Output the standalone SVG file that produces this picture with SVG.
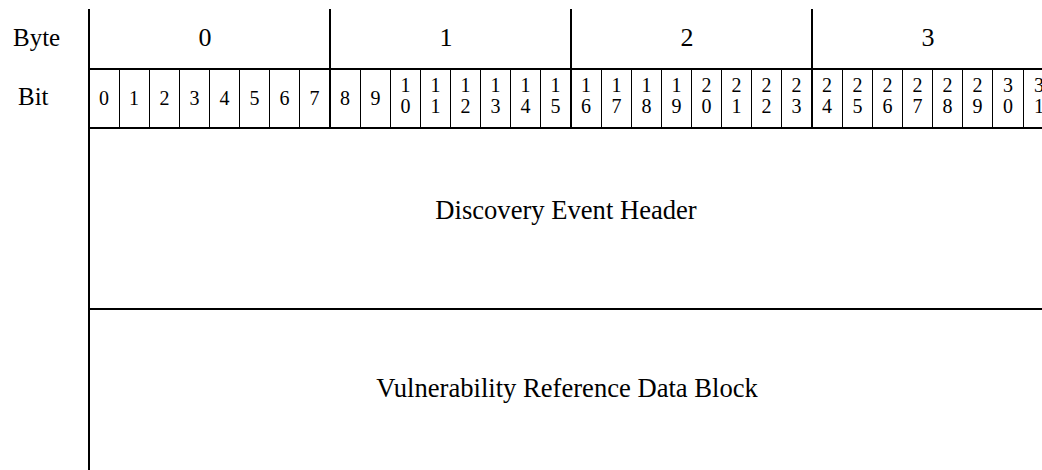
<svg xmlns="http://www.w3.org/2000/svg" width="1042" height="470" viewBox="0 0 1042 470">
<style>
text{font-family:"Liberation Serif","Times New Roman",serif;fill:#000}
.lg{font-size:26px;text-anchor:middle}
.body{font-size:26.6px;text-anchor:middle}
.hd{font-size:25px}
.bt{font-size:20px;text-anchor:middle}
.thick{stroke:#000;stroke-width:2;fill:none}
.thin{stroke:#000;stroke-width:1;fill:none}
</style>
<rect width="1042" height="470" fill="#fff"/>
<g id="connectors">
<line class="thick" x1="89" y1="9" x2="89" y2="470"/>
<line class="thick" x1="330" y1="9" x2="330" y2="128"/>
<line class="thick" x1="571" y1="9" x2="571" y2="128"/>
<line class="thick" x1="812" y1="9" x2="812" y2="128"/>
<line class="thick" x1="89" y1="69" x2="1042" y2="69"/>
<line class="thick" x1="89" y1="128" x2="1042" y2="128"/>
<line class="thick" x1="89" y1="309" x2="1042" y2="309"/>
<g class="bits">
<line class="thin" x1="119.5" y1="69" x2="119.5" y2="128"/>
<line class="thin" x1="149.5" y1="69" x2="149.5" y2="128"/>
<line class="thin" x1="179.5" y1="69" x2="179.5" y2="128"/>
<line class="thin" x1="209.5" y1="69" x2="209.5" y2="128"/>
<line class="thin" x1="239.5" y1="69" x2="239.5" y2="128"/>
<line class="thin" x1="269.5" y1="69" x2="269.5" y2="128"/>
<line class="thin" x1="299.5" y1="69" x2="299.5" y2="128"/>
<line class="thin" x1="360.5" y1="69" x2="360.5" y2="128"/>
<line class="thin" x1="390.5" y1="69" x2="390.5" y2="128"/>
<line class="thin" x1="420.5" y1="69" x2="420.5" y2="128"/>
<line class="thin" x1="450.5" y1="69" x2="450.5" y2="128"/>
<line class="thin" x1="480.5" y1="69" x2="480.5" y2="128"/>
<line class="thin" x1="510.5" y1="69" x2="510.5" y2="128"/>
<line class="thin" x1="540.5" y1="69" x2="540.5" y2="128"/>
<line class="thin" x1="601.5" y1="69" x2="601.5" y2="128"/>
<line class="thin" x1="631.5" y1="69" x2="631.5" y2="128"/>
<line class="thin" x1="661.5" y1="69" x2="661.5" y2="128"/>
<line class="thin" x1="691.5" y1="69" x2="691.5" y2="128"/>
<line class="thin" x1="721.5" y1="69" x2="721.5" y2="128"/>
<line class="thin" x1="751.5" y1="69" x2="751.5" y2="128"/>
<line class="thin" x1="781.5" y1="69" x2="781.5" y2="128"/>
<line class="thin" x1="842.5" y1="69" x2="842.5" y2="128"/>
<line class="thin" x1="872.5" y1="69" x2="872.5" y2="128"/>
<line class="thin" x1="902.5" y1="69" x2="902.5" y2="128"/>
<line class="thin" x1="932.5" y1="69" x2="932.5" y2="128"/>
<line class="thin" x1="962.5" y1="69" x2="962.5" y2="128"/>
<line class="thin" x1="992.5" y1="69" x2="992.5" y2="128"/>
<line class="thin" x1="1023.5" y1="69" x2="1023.5" y2="128"/>
</g>
</g>
<g id="labels">
<text class="hd" x="13" y="46">Byte</text>
<text class="hd" x="18" y="105">Bit</text>
</g>
<g id="bytes">
<text class="lg" x="205" y="46">0</text>
<text class="lg" x="446" y="46">1</text>
<text class="lg" x="687" y="46">2</text>
<text class="lg" x="928" y="46">3</text>
</g>
<g id="bit-labels">
<text class="bt" x="104" y="105">0</text>
<text class="bt" x="134" y="105">1</text>
<text class="bt" x="164.5" y="105">2</text>
<text class="bt" x="194.5" y="105">3</text>
<text class="bt" x="224.5" y="105">4</text>
<text class="bt" x="254.5" y="105">5</text>
<text class="bt" x="284.5" y="105">6</text>
<text class="bt" x="314.5" y="105">7</text>
<text class="bt" x="345" y="105">8</text>
<text class="bt" x="375.5" y="105">9</text>
<text class="bt" x="405.5" y="92">1<tspan x="405.5" dy="21">0</tspan></text>
<text class="bt" x="435.5" y="92">1<tspan x="435.5" dy="21">1</tspan></text>
<text class="bt" x="465.5" y="92">1<tspan x="465.5" dy="21">2</tspan></text>
<text class="bt" x="495.5" y="92">1<tspan x="495.5" dy="21">3</tspan></text>
<text class="bt" x="525.5" y="92">1<tspan x="525.5" dy="21">4</tspan></text>
<text class="bt" x="555.5" y="92">1<tspan x="555.5" dy="21">5</tspan></text>
<text class="bt" x="586" y="92">1<tspan x="586" dy="21">6</tspan></text>
<text class="bt" x="616.5" y="92">1<tspan x="616.5" dy="21">7</tspan></text>
<text class="bt" x="646.5" y="92">1<tspan x="646.5" dy="21">8</tspan></text>
<text class="bt" x="676.5" y="92">1<tspan x="676.5" dy="21">9</tspan></text>
<text class="bt" x="706.5" y="92">2<tspan x="706.5" dy="21">0</tspan></text>
<text class="bt" x="736.5" y="92">2<tspan x="736.5" dy="21">1</tspan></text>
<text class="bt" x="766.5" y="92">2<tspan x="766.5" dy="21">2</tspan></text>
<text class="bt" x="796.5" y="92">2<tspan x="796.5" dy="21">3</tspan></text>
<text class="bt" x="827" y="92">2<tspan x="827" dy="21">4</tspan></text>
<text class="bt" x="857.5" y="92">2<tspan x="857.5" dy="21">5</tspan></text>
<text class="bt" x="887.5" y="92">2<tspan x="887.5" dy="21">6</tspan></text>
<text class="bt" x="917.5" y="92">2<tspan x="917.5" dy="21">7</tspan></text>
<text class="bt" x="947.5" y="92">2<tspan x="947.5" dy="21">8</tspan></text>
<text class="bt" x="977.5" y="92">2<tspan x="977.5" dy="21">9</tspan></text>
<text class="bt" x="1008" y="92">3<tspan x="1008" dy="21">0</tspan></text>
<text class="bt" x="1039" y="92">3<tspan x="1039" dy="21">1</tspan></text>
</g>
<g id="discovery-event-header">
<text class="body" x="566" y="219">Discovery Event Header</text>
</g>
<g id="vulnerability-reference-data-block">
<text class="body" x="567" y="397">Vulnerability Reference Data Block</text>
</g>
</svg>
